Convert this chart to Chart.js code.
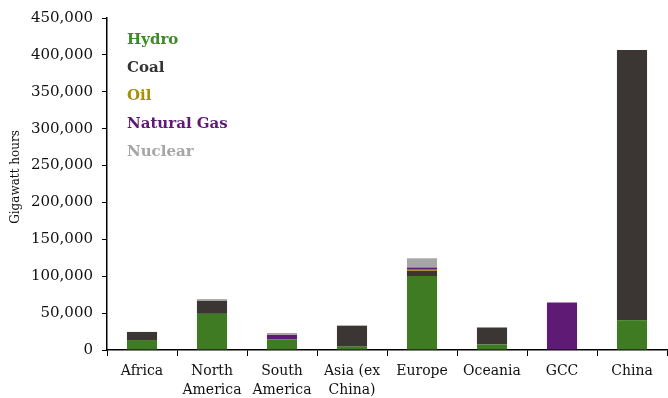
<!DOCTYPE html>
<html>
<head>
<meta charset="utf-8">
<script src="https://cdn.jsdelivr.net/npm/chart.js@4/dist/chart.umd.min.js"></script>
<style>
  html, body { margin: 0; padding: 0; background: #fff; }
  #wrap { width: 668px; height: 398px; position: relative; }
</style>
</head>
<body>
<div id="wrap"><canvas id="chart"></canvas></div>
<script>
const regions = [['Africa'], ['North', 'America'], ['South', 'America'], ['Asia (ex', 'China)'], ['Europe'], ['Oceania'], ['GCC'], ['China']];
const hydro = [13500, 49000, 14500, 4500, 100300, 7500, 0, 40500];
const coal = [11000, 17500, 0, 28500, 7000, 23000, 0, 366000];
const oil = [0, 0, 0, 0, 1500, 0, 0, 0];
const naturalGas = [0, 0, 5800, 0, 3000, 0, 64500, 0];
const nuclear = [0, 2500, 2700, 0, 12500, 0, 0, 0];
const yTitle = 'Gigawatt hours';

const serif = '"DejaVu Serif", "Liberation Serif", serif';

// text-only legend at the top left of the plot, plus the rotated y title
const textLegend = {
  id: 'textLegend',
  afterDraw(chart) {
    const ctx = chart.ctx;
    ctx.save();
    ctx.font = 'bold 15px ' + serif;
    ctx.textBaseline = 'middle';
    chart.data.datasets.forEach((ds, i) => {
      ctx.fillStyle = ds.textColor;
      ctx.fillText(ds.label, 127, 40 + i * 28);
    });
    ctx.translate(16, 177);
    ctx.rotate(-Math.PI / 2);
    ctx.textAlign = 'center';
    ctx.font = '12px ' + serif;
    ctx.fillStyle = '#111';
    ctx.fillText(yTitle, 0, 0);
    ctx.restore();
  }
};

const ctx = document.getElementById('chart').getContext('2d');
new Chart(ctx, {
  type: 'bar',
  data: {
    labels: regions,
    datasets: [
      { label: 'Hydro', data: hydro, backgroundColor: '#3e7b23', textColor: '#3e8a27' },
      { label: 'Coal', data: coal, backgroundColor: '#3b3633', textColor: '#333333' },
      { label: 'Oil', data: oil, backgroundColor: '#b39400', textColor: '#a88f00' },
      { label: 'Natural Gas', data: naturalGas, backgroundColor: '#5f1a75', textColor: '#5f1a75' },
      { label: 'Nuclear', data: nuclear, backgroundColor: '#a6a6a6', textColor: '#a6a6a6' },
    ],
  },
  options: {
    responsive: true,
    maintainAspectRatio: false,
    animation: false,
    barPercentage: 0.43,
    categoryPercentage: 1,
    layout: { padding: { top: 18, right: 1, left: 0, bottom: 0 } },
    plugins: {
      legend: { display: false },
      tooltip: { enabled: false },
    },
    scales: {
      x: {
        stacked: true,
        afterFit: (scale) => { scale.height = 48; },
        grid: { display: true, drawOnChartArea: false, drawTicks: true, tickLength: 6, color: '#000' },
        border: { color: '#000', width: 1.5 },
        ticks: {
          color: '#111',
          padding: 6,
          maxRotation: 0,
          font: { family: serif, size: 14, lineHeight: 1.35 },
        },
      },
      y: {
        stacked: true,
        min: 0,
        max: 450000,
        afterFit: (scale) => { scale.width = 107; },
        grid: { display: true, drawOnChartArea: false, drawTicks: true, tickLength: 5, color: '#000' },
        border: { color: '#000', width: 1.5 },
        ticks: {
          stepSize: 50000,
          color: '#111',
          padding: 9,
          font: { family: serif, size: 15 },
          callback: (v) => v.toLocaleString('en-US'),
        },
      },
    },
  },
  plugins: [textLegend],
});
</script>
</body>
</html>
